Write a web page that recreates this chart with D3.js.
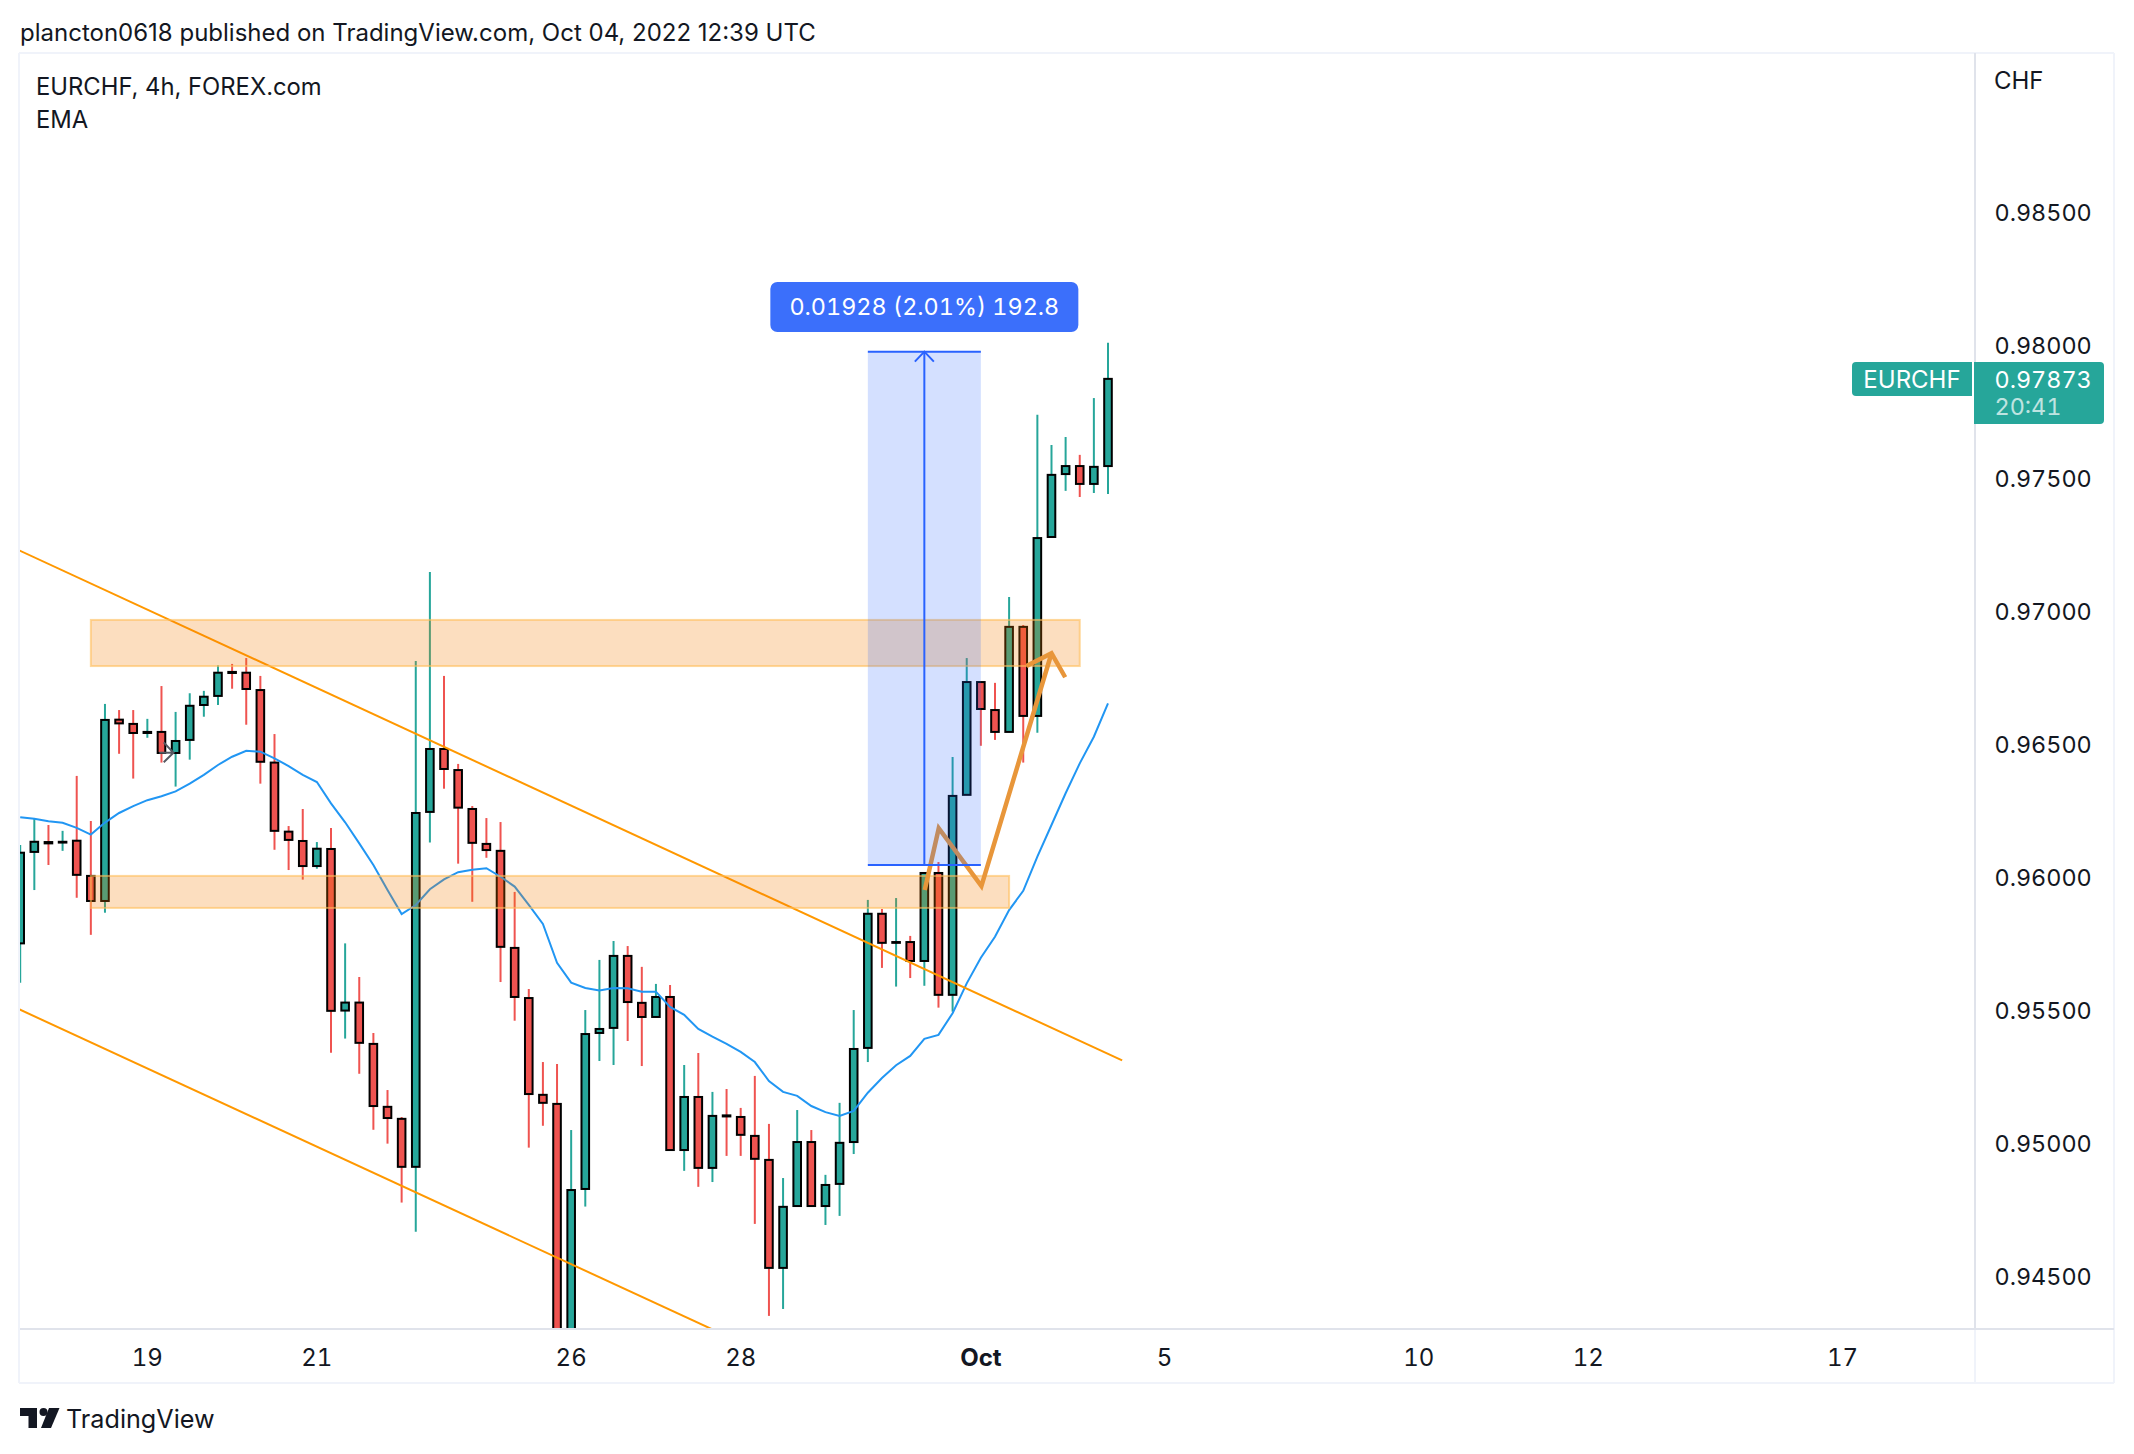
<!DOCTYPE html>
<html><head><meta charset="utf-8">
<script src="https://cdn.jsdelivr.net/npm/d3@7/dist/d3.min.js"></script>
<style>html,body{margin:0;padding:0;background:#fff}svg{display:block}text{font-family:Inter,"Noto Sans",sans-serif;fill:#131722}text.num{font-variant-numeric:tabular-nums}</style>
</head><body><div id="c"></div>
<script>
const opens=[.95756,.96099,.96136,.96134,.96141,.96009,.95915,.96595,.96579,.96545,.96549,.9647,.96519,.9665,.96684,.96774,.96771,.96706,.96434,.96175,.9614,.96046,.9611,.95504,.95534,.95379,.95143,.95098,.94918,.96249,.96485,.96406,.9626,.96129,.96103,.95739,.95551,.95188,.95154,.94156,.94835,.9542,.95439,.95709,.95533,.9548,.95555,.94981,.9518,.94914,.95111,.95105,.95034,.94944,.94539,.94771,.95011,.94771,.94854,.95011,.95364,.95867,.95758,.95761,.9569,.9602,.95563,.96313,.96736,.96631,.96549,.96943,.96609,.9728,.97516,.97546,.97479,.97546];
const highs=[.96125,.96225,.962,.96178,.96384,.96215,.96654,.96631,.96631,.96598,.96721,.96624,.96694,.96703,.96799,.96804,.96826,.96759,.96541,.96196,.9626,.96136,.96189,.95756,.9563,.9542,.95206,.95105,.96815,.97149,.96759,.96429,.96271,.96226,.96211,.95949,.95585,.95311,.95304,.95056,.95506,.95694,.95765,.95746,.95668,.95604,.956,.953,.95345,.95199,.9521,.95139,.95259,.95079,.94876,.95131,.95056,.94888,.95158,.95506,.95919,.95885,.95926,.95784,.9602,.96061,.96455,.96826,.96736,.96733,.97055,.9695,.97738,.97625,.97655,.97588,.97801,.98008];
const lows=[.95608,.95956,.9605,.96103,.95927,.95788,.95871,.96467,.96374,.96527,.96434,.96344,.96445,.96606,.9665,.96711,.96576,.96355,.96107,.96031,.95995,.96036,.95346,.95399,.95267,.95057,.95005,.94784,.94675,.96134,.96336,.96055,.95912,.96077,.95611,.95466,.9499,.95072,.94081,.941,.94769,.95315,.953,.9539,.95296,.9548,.94981,.94903,.94843,.94861,.94959,.94959,.94704,.94359,.94385,.94771,.94771,.947,.94734,.94966,.95311,.95664,.95594,.95626,.95597,.95515,.955,.96313,.96497,.96519,.96549,.96434,.96546,.9728,.97453,.9743,.97445,.97441];
const closes=[.96096,.96137,.96131,.96137,.96013,.95915,.96594,.96581,.96545,.96549,.9647,.96515,.96647,.96681,.96771,.9677,.9671,.96437,.96178,.96144,.96046,.96111,.95503,.95534,.95383,.95146,.95101,.94918,.96245,.96485,.9641,.96265,.96133,.96106,.95743,.95555,.95191,.95158,.94156,.94831,.95416,.95435,.95709,.95536,.9548,.95555,.94981,.9518,.94914,.95109,.95107,.95038,.94948,.94539,.94768,.95011,.94771,.9485,.95008,.9536,.95867,.95758,.95761,.9569,.9602,.95563,.96309,.96736,.96635,.96549,.96943,.96609,.97276,.97513,.97546,.97479,.97543,.97873];
const ema=[.96229,.96223,.96214,.96208,.96189,.96164,.96209,.96245,.96271,.96293,.96308,.96326,.96355,.96388,.96425,.96456,.96478,.96475,.9645,.96421,.96388,.96361,.96281,.9621,.96131,.9605,.95956,.95866,.959,.95959,.95996,.96023,.96032,.96038,.96006,.95969,.959,.95829,.95683,.95609,.95589,.95579,.95589,.95588,.95575,.95575,.95518,.95488,.95435,.95406,.95379,.95349,.95311,.9524,.95199,.95184,.95146,.95123,.95109,.95128,.95196,.95251,.95299,.95334,.95398,.95413,.95494,.95606,.95702,.95781,.95881,.95953,.96081,.962,.96319,.96431,.96531,.96656];
const priceTicks=[.945,.95,.955,.96,.965,.97,.975,.98,.985];
const dateTickBars=[9,21,39,51,68,81,99,111,129];
const dateTickLabels=["19","21","26","28","Oct","5","10","12","17"];
const zoneUpper={from:5,to:75,top:.96969,bottom:.96796};
const zoneLower={from:5,to:70,top:.96009,bottom:.95889};
const channelUpper=[[-0.12,.97231],[78,.95317]];
const channelLower=[[-0.12,.9551],[52,.94235]];
const handPath=[[64.03,.95956],[65.02,.96188],[68.04,.95971],[73,.96844]];
const handHead=[[71.23,.96796],[73,.96844],[73.97,.96754]];
const cursorShaft=[[9.85,.96471],[10.85,.96471]];
const cursorHead=[[10.16,.9651],[10.85,.96471],[10.16,.96435]];
const measure={from:60,mid:64,to:68,top:.97975,bottom:.9605,label:"0.01928 (2.01%) 192.8"};
const lastPrice=.97873;

const W=2134,H=1454;
const svg=d3.select("#c").append("svg").attr("width",W).attr("height",H).attr("viewBox",`0 0 ${W} ${H}`);
const x=d3.scaleLinear().domain([0,77]).range([20.2,1108]);
const y=d3.scaleLinear().domain([.945,.985]).range([1278.3,211.67]);
const yLabel=d3.scaleLinear().domain([.945,.98]).range([1277,345.2]);
const P={l:20,t:54,r:1975,b:1328,R:2114,B:1383};
const GREEN="#26a69a",RED="#ef5350";

svg.append("defs").append("clipPath").attr("id","pane").append("rect").attr("x",P.l).attr("y",P.t).attr("width",P.r-P.l).attr("height",P.b-P.t);
const frame="#f0f3fa",axisC="#e0e3eb";
const ln=(a,b,c,d,col,w)=>svg.append("line").attr("x1",a).attr("y1",b).attr("x2",c).attr("y2",d).attr("stroke",col).attr("stroke-width",w);
ln(P.l-1,53,P.R,53,frame,2);ln(P.l-1,53,P.l-1,P.B,frame,2);ln(P.R,53,P.R,P.B,frame,2);ln(P.l-1,P.B,P.R,P.B,frame,2);
ln(P.r,P.b,P.r,P.B,frame,2);
ln(P.r,53,P.r,P.b+1,axisC,2);ln(P.l,P.b+1,P.R,P.b+1,axisC,2);

const g=svg.append("g").attr("clip-path","url(#pane)");
const idx=d3.range(opens.length);
g.selectAll(".w").data(idx).join("line").attr("x1",i=>x(i)).attr("x2",i=>x(i)).attr("y1",i=>y(highs[i])).attr("y2",i=>y(lows[i]))
 .attr("stroke",i=>closes[i]>=opens[i]?GREEN:RED).attr("stroke-width",2);
g.selectAll(".b").data(idx).join("rect").attr("x",i=>x(i)-3.8).attr("width",7.6)
 .attr("y",i=>y(Math.max(opens[i],closes[i]))).attr("height",i=>Math.abs(y(opens[i])-y(closes[i])))
 .attr("fill",i=>closes[i]>=opens[i]?GREEN:RED).attr("stroke","#000").attr("stroke-width",2);
const lineGen=d3.line().x(d=>x(d[0])).y(d=>y(d[1]));
g.append("path").attr("d",d3.line().x((d,i)=>x(i)).y(d=>y(d))(ema)).attr("fill","none").attr("stroke","#2196f3").attr("stroke-width",2);
[channelUpper,channelLower].forEach(c=>g.append("path").attr("d",lineGen(c)).attr("fill","none").attr("stroke","#ff9800").attr("stroke-width",2));
[cursorShaft,cursorHead].forEach(c=>g.append("path").attr("d",lineGen(c)).attr("fill","none").attr("stroke","#555a63").attr("stroke-width",2));
[zoneUpper,zoneLower].forEach(z=>g.append("rect").attr("x",x(z.from)).attr("width",x(z.to)-x(z.from)).attr("y",y(z.top)).attr("height",y(z.bottom)-y(z.top))
 .attr("fill","rgba(245,124,0,0.25)").attr("stroke","rgba(255,190,90,0.6)").attr("stroke-width",2));
[handPath,handHead].forEach(c=>g.append("path").attr("d",lineGen(c)).attr("fill","none").attr("stroke","#e8963a").attr("stroke-width",4.5).attr("stroke-linejoin","miter"));
g.append("rect").attr("x",x(measure.from)).attr("width",x(measure.to)-x(measure.from)).attr("y",y(measure.top)).attr("height",y(measure.bottom)-y(measure.top)).attr("fill","rgba(41,98,255,0.2)");
[measure.top,measure.bottom].forEach(p=>g.append("line").attr("x1",x(measure.from)).attr("x2",x(measure.to)).attr("y1",y(p)).attr("y2",y(p)).attr("stroke","#2962ff").attr("stroke-width",2));
g.append("line").attr("x1",x(measure.mid)).attr("x2",x(measure.mid)).attr("y1",y(measure.top)).attr("y2",y(measure.bottom)).attr("stroke","#2962ff").attr("stroke-width",2);
const mx=x(measure.mid),my=y(measure.top);
g.append("path").attr("d",`M${mx-9.5},${my+10}L${mx},${my}L${mx+9.5},${my+10}`).attr("fill","none").attr("stroke","#2962ff").attr("stroke-width",2);

const lw=308,lh=50;
svg.append("rect").attr("x",mx-154).attr("y",282).attr("width",lw).attr("height",lh).attr("rx",7).attr("fill","#3b6ffb");
svg.append("text").attr("class","num").attr("x",mx).attr("y",307).attr("dy",".36em").attr("text-anchor","middle").attr("font-size",23.4).style("fill","#fff").text(measure.label);

const txt=(s,a,b,sz,opt={})=>{const t=svg.append("text").attr("x",a).attr("y",b).attr("font-size",sz).attr("dy",".36em").text(s);
 if(opt.num)t.attr("class","num");if(opt.anchor)t.attr("text-anchor",opt.anchor);if(opt.weight)t.attr("font-weight",opt.weight);if(opt.fill)t.style("fill",opt.fill);if(opt.op)t.attr("opacity",opt.op);return t;};
txt("plancton0618 published on TradingView.com, Oct 04, 2022 12:39 UTC",20,32,24);
txt("EURCHF, 4h, FOREX.com",36,86,23.8);
txt("EMA",36,119,23.8);
txt("CHF",1994,80,24);
priceTicks.forEach(p=>txt(p.toFixed(5),1994.5,yLabel(p),23.4,{num:true}));
dateTickBars.forEach((b,i)=>txt(dateTickLabels[i],x(b),1357,24,{num:true,anchor:"middle",weight:dateTickLabels[i]==="Oct"?700:400}));

svg.append("path").attr("d","M1852,366a4,4 0 0 1 4,-4H1972V396H1856a4,4 0 0 1 -4,-4Z").attr("fill",GREEN);
svg.append("path").attr("d","M1974,362H2100a4,4 0 0 1 4,4V420a4,4 0 0 1 -4,4H1974Z").attr("fill",GREEN);
txt("EURCHF",1912,y(lastPrice),24,{anchor:"middle",fill:"#fff"});
txt(lastPrice.toFixed(5),1994.5,y(lastPrice)+.5,23.4,{num:true,fill:"#fff"});
txt("20:41",1994.5,407,23.4,{num:true,fill:"#fff",op:.7});

svg.append("path").attr("d","M20,1408H37V1428H28.5V1416H20Z").attr("fill","#131722");
svg.append("circle").attr("cx",43.5).attr("cy",1412).attr("r",4).attr("fill","#131722");
svg.append("path").attr("d","M49,1408H59.5L51,1428H41Z").attr("fill","#131722");
txt("TradingView",66,1419,25.2);
</script></body></html>
